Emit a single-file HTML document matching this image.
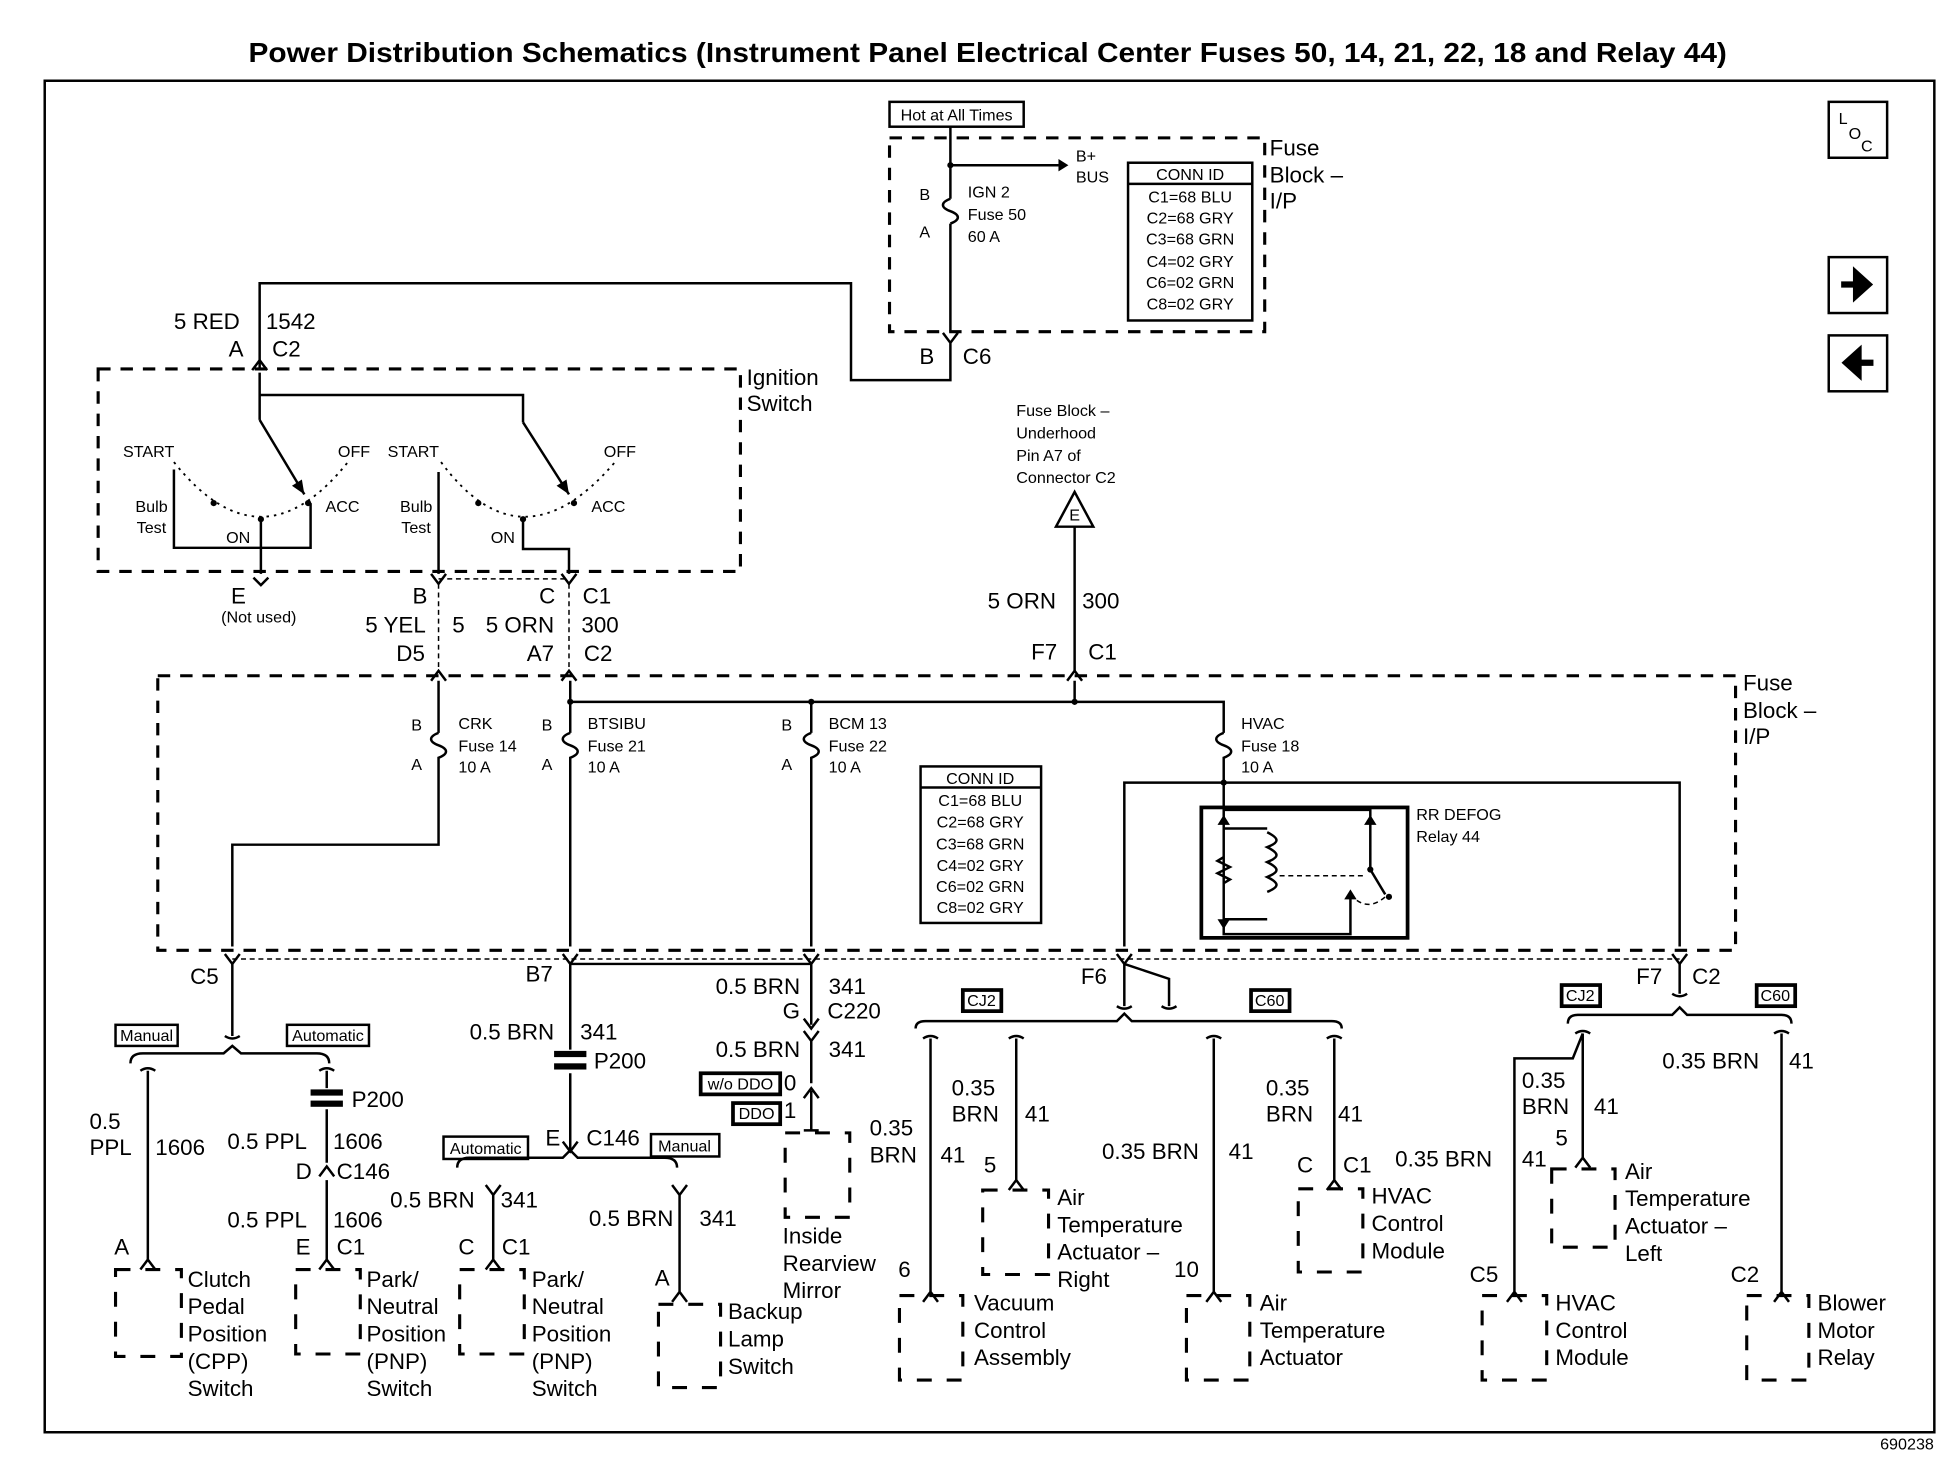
<!DOCTYPE html>
<html><head><meta charset="utf-8"><style>
html,body{margin:0;padding:0;background:#fff}
svg{display:block}
text{font-family:"Liberation Sans",sans-serif;fill:#000}
.t{font-size:18px}
.s{font-size:13px}
.m{font-size:15px}
.w{stroke:#000;stroke-width:2;fill:none}
.d{stroke:#000;stroke-width:2.5;fill:none;stroke-dasharray:10,8}
.cd{stroke:#000;stroke-width:2.5;fill:none;stroke-dasharray:12,12}
.dot{stroke:#000;stroke-width:1.5;fill:none;stroke-dasharray:2,4}
.thd{stroke:#000;stroke-width:1.2;fill:none;stroke-dasharray:4,3}
</style></head><body>
<svg width="1948" height="1472" viewBox="0 0 1568 1185" preserveAspectRatio="none" xmlns="http://www.w3.org/2000/svg">
<rect width="1568" height="1185" fill="#fff"/>
<text x="200" y="50" textLength="1190" lengthAdjust="spacingAndGlyphs" font-size="22" font-weight="bold">Power Distribution Schematics (Instrument Panel Electrical Center Fuses 50, 14, 21, 22, 18 and Relay 44)</text>
<rect x="36" y="65" width="1521" height="1088" class="w"/>
<text x="1535" y="1167" class="s" font-size="11" text-anchor="middle">690238</text>
<!-- right icons -->
<rect x="1472" y="82" width="47" height="45" class="w"/>
<text x="1480" y="100" class="s">L</text><text x="1488" y="112" class="s">O</text><text x="1498" y="122" class="s" font-size="11">C</text>
<rect x="1472" y="207" width="47" height="45" class="w"/>
<path d="M1482 229h18M1494 220l10 9-10 9z" stroke="#000" stroke-width="5" fill="#000"/>
<rect x="1472" y="270" width="47" height="45" class="w"/>
<path d="M1508 292h-18M1496 283l-10 9 10 9z" stroke="#000" stroke-width="5" fill="#000"/>

<!-- top fuse block -->
<rect x="716" y="82" width="108" height="20" class="w"/>
<text x="770" y="97" class="s" text-anchor="middle">Hot at All Times</text>
<rect x="716" y="111" width="302" height="156" class="d"/>
<path d="M765 102V160M765 180V267M765 133H852" class="w"/>
<path d="M852 128l8 5-8 5z"/>
<path d="M765 160c-8 3-8 7 0 10c8 3 8 7 0 10" class="w"/>
<circle cx="765" cy="133" r="2.5"/>
<text x="866" y="130" class="s">B+</text><text x="866" y="147" class="s">BUS</text>
<text x="740" y="161" class="s">B</text><text x="740" y="191" class="s">A</text>
<text x="779" y="159" class="s">IGN 2</text><text x="779" y="177" class="s">Fuse 50</text><text x="779" y="195" class="s">60 A</text>
<rect x="908" y="131" width="100" height="127" class="w"/>
<line x1="908" y1="148" x2="1008" y2="148" class="w"/>
<text x="958" y="145" class="s" text-anchor="middle">CONN ID</text>
<text x="958" y="163" class="s" text-anchor="middle">C1=68 BLU</text>
<text x="958" y="180" class="s" text-anchor="middle">C2=68 GRY</text>
<text x="958" y="197" class="s" text-anchor="middle">C3=68 GRN</text>
<text x="958" y="215" class="s" text-anchor="middle">C4=02 GRY</text>
<text x="958" y="232" class="s" text-anchor="middle">C6=02 GRN</text>
<text x="958" y="249" class="s" text-anchor="middle">C8=02 GRY</text>
<text x="1022" y="125" class="t">Fuse</text><text x="1022" y="147" class="t">Block –</text><text x="1022" y="168" class="t">I/P</text>
<!-- C6 -->
<path d="M759 268l6 8 6-8M765 276V306H685V228H209V296" class="w"/>
<text x="740" y="293" class="t">B</text><text x="775" y="293" class="t">C6</text>
<path d="M203 298l6-8 6 8" class="w"/>
<text x="140" y="265" class="t">5 RED</text><text x="214" y="265" class="t">1542</text>
<text x="184" y="287" class="t">A</text><text x="219" y="287" class="t">C2</text>

<!-- ignition switch -->
<rect x="79" y="297" width="517" height="163" class="d"/>
<text x="601" y="310" class="t">Ignition</text><text x="601" y="331" class="t">Switch</text>
<path d="M209 300V318H421V340M209 318V338" class="w"/>
<path d="M209 338L245 398M421 340L458 398" class="w"/>
<path d="M245 398l-2-12 -8 5z M458 398l-2-12 -8 5z"/>
<path d="M140 372Q210 460 280 372M355 372Q420 460 495 372" class="dot"/>
<circle cx="172" cy="405" r="2.5"/><circle cx="210" cy="418" r="2.5"/><circle cx="248" cy="405" r="2.5"/>
<circle cx="385" cy="405" r="2.5"/><circle cx="421" cy="418" r="2.5"/><circle cx="462" cy="405" r="2.5"/>
<path d="M140 378V441H250V405M210 418V462M353 380V462M421 418V442H458V462" class="w"/>
<text x="99" y="368" class="s">START</text><text x="272" y="368" class="s">OFF</text>
<text x="312" y="368" class="s">START</text><text x="486" y="368" class="s">OFF</text>
<text x="109" y="412" class="s">Bulb</text><text x="110" y="429" class="s">Test</text>
<text x="322" y="412" class="s">Bulb</text><text x="323" y="429" class="s">Test</text>
<text x="182" y="437" class="s">ON</text><text x="395" y="437" class="s">ON</text>
<text x="262" y="412" class="s">ACC</text><text x="476" y="412" class="s">ACC</text>
<path d="M204 465l6 6 6-6M347 462l6 8 6-8M452 462l6 8 6-8" class="w"/>
<text x="186" y="486" class="t">E</text><text x="178" y="501" class="s" font-size="11">(Not used)</text>
<text x="332" y="486" class="t">B</text><text x="434" y="486" class="t">C</text><text x="469" y="486" class="t">C1</text>
<text x="294" y="509" class="t">5 YEL</text><text x="364" y="509" class="t">5</text>
<text x="391" y="509" class="t">5 ORN</text><text x="468" y="509" class="t">300</text>
<text x="319" y="532" class="t">D5</text><text x="424" y="532" class="t">A7</text><text x="470" y="532" class="t">C2</text>
<path d="M353 470V540M458 470V540M353 466H458" class="thd"/>
<path d="M347 548l6-8 6 8M452 548l6-8 6 8" class="w"/>

<!-- E triangle -->
<text x="818" y="335" class="s">Fuse Block –</text><text x="818" y="353" class="s">Underhood</text>
<text x="818" y="371" class="s">Pin A7 of</text><text x="818" y="389" class="s">Connector C2</text>
<path d="M865 396L880 424H850Z" class="w"/><text x="865" y="419" class="s" text-anchor="middle">E</text>
<path d="M865 424V540" class="w"/>
<text x="795" y="490" class="t">5 ORN</text><text x="871" y="490" class="t">300</text>
<text x="830" y="531" class="t">F7</text><text x="876" y="531" class="t">C1</text>
<path d="M859 548l6-8 6 8" class="w"/>

<!-- IP fuse block -->
<rect x="127" y="544" width="1270" height="221" class="d"/>
<text x="1403" y="556" class="t">Fuse</text><text x="1403" y="578" class="t">Block –</text><text x="1403" y="599" class="t">I/P</text>
<path d="M865 548V565H459M865 565H985V590M653 565V590M459 548V590M353 548V590" class="w"/>
<circle cx="459" cy="565" r="2.5"/><circle cx="653" cy="565" r="2.5"/><circle cx="865" cy="565" r="2.5"/>
<g class="w">
<path d="M353 590c-8 3-8 7 0 10c8 3 8 7 0 10V680H187V762"/>
<path d="M459 590c-8 3-8 7 0 10c8 3 8 7 0 10V762"/>
<path d="M653 590c-8 3-8 7 0 10c8 3 8 7 0 10V762"/>
<path d="M985 590c-8 3-8 7 0 10c8 3 8 7 0 10V630M905 762V630H1352V762"/>
</g>
<circle cx="985" cy="630" r="2.5"/>
<text x="331" y="588" class="s">B</text><text x="331" y="620" class="s">A</text>
<text x="369" y="587" class="s">CRK</text><text x="369" y="605" class="s">Fuse 14</text><text x="369" y="622" class="s">10 A</text>
<text x="436" y="588" class="s">B</text><text x="436" y="620" class="s">A</text>
<text x="473" y="587" class="s">BTSIBU</text><text x="473" y="605" class="s">Fuse 21</text><text x="473" y="622" class="s">10 A</text>
<text x="629" y="588" class="s">B</text><text x="629" y="620" class="s">A</text>
<text x="667" y="587" class="s">BCM 13</text><text x="667" y="605" class="s">Fuse 22</text><text x="667" y="622" class="s">10 A</text>
<text x="999" y="587" class="s">HVAC</text><text x="999" y="605" class="s">Fuse 18</text><text x="999" y="622" class="s">10 A</text>
<rect x="741" y="617" width="97" height="126" class="w"/>
<line x1="741" y1="634" x2="838" y2="634" class="w"/>
<text x="789" y="631" class="s" text-anchor="middle">CONN ID</text>
<text x="789" y="649" class="s" text-anchor="middle">C1=68 BLU</text>
<text x="789" y="666" class="s" text-anchor="middle">C2=68 GRY</text>
<text x="789" y="684" class="s" text-anchor="middle">C3=68 GRN</text>
<text x="789" y="701" class="s" text-anchor="middle">C4=02 GRY</text>
<text x="789" y="718" class="s" text-anchor="middle">C6=02 GRN</text>
<text x="789" y="735" class="s" text-anchor="middle">C8=02 GRY</text>
<!-- relay -->
<rect x="967" y="650" width="166" height="105" stroke="#000" stroke-width="3" fill="none"/>
<text x="1140" y="660" class="s">RR DEFOG</text><text x="1140" y="678" class="s">Relay 44</text>
<path d="M985 630V652H1103V680M985 652V752H1087V720M985 667V690l-5 3 10 5-10 5 10 5-5 3V740M985 667H1020M1020 740H985M1020 670c10 5 10 8 0 12c10 5 10 8 0 12c10 5 10 8 0 12c10 5 10 8 0 12M1103 680V700l12 20" class="w"/>
<path d="M1103 656l-5 8h10z M985 656l-5 8h10z M985 748l-5-8h10z M1087 716l-5 8h10z"/>
<path d="M1030 705H1100M1087 720Q1100 735 1115 722" class="thd"/>
<circle cx="1103" cy="700" r="2.5"/><circle cx="1118" cy="722" r="2.5"/>

<path d="M181 768l6 8 6-8M453 768l6 8 6-8M647 768l6 8 6-8M899 768l6 8 6-8M1346 768l6 8 6-8" class="w"/>
<path d="M187 772H1352" class="thd"/>
<text x="153" y="792" class="t">C5</text><text x="423" y="790" class="t">B7</text>
<text x="870" y="792" class="t">F6</text>
<text x="1317" y="792" class="t">F7</text><text x="1362" y="792" class="t">C2</text>

<!-- C5 branch -->
<path d="M187 776V834" class="w"/>
<path d="M181 834q6 4 12 0" class="w"/>
<rect x="93" y="825" width="50" height="17" class="w"/><text x="118" y="838" class="s" text-anchor="middle">Manual</text>
<rect x="231" y="825" width="66" height="17" class="w"/><text x="264" y="838" class="s" text-anchor="middle">Automatic</text>
<path d="M105 856Q105 848 115 848H180L187 842 194 848H255Q265 848 265 856" class="w"/>
<path d="M113 862q6-4 12 0M119 862V1015M113 1022l6-8 6 8" class="w"/>
<path d="M257 862q6-4 12 0M263 862V876M263 893V936M257 947l6-8 6 8M263 950V1015M257 1022l6-8 6 8" class="w"/>
<rect x="250" y="877" width="26" height="5" fill="#000"/><rect x="250" y="886" width="26" height="5" fill="#000"/>
<text x="283" y="891" class="t">P200</text>
<text x="72" y="909" class="t">0.5</text><text x="72" y="930" class="t">PPL</text><text x="125" y="930" class="t">1606</text>
<text x="183" y="925" class="t">0.5 PPL</text><text x="268" y="925" class="t">1606</text>
<text x="238" y="949" class="t">D</text><text x="271" y="949" class="t">C146</text>
<text x="183" y="988" class="t">0.5 PPL</text><text x="268" y="988" class="t">1606</text>
<text x="92" y="1010" class="t">A</text><text x="238" y="1010" class="t">E</text><text x="271" y="1010" class="t">C1</text>

<!-- B7 branch -->
<path d="M459 776V845M459 864V925M453 919l6 8 6-8M459 776H653V825M647 820l6 8 6-8" class="w"/>
<rect x="446" y="846" width="26" height="5" fill="#000"/><rect x="446" y="856" width="26" height="5" fill="#000"/>
<text x="478" y="860" class="t">P200</text>
<text x="378" y="837" class="t">0.5 BRN</text><text x="467" y="837" class="t">341</text>
<text x="576" y="800" class="t">0.5 BRN</text><text x="667" y="800" class="t">341</text>
<text x="630" y="820" class="t">G</text><text x="666" y="820" class="t">C220</text>
<text x="439" y="922" class="t">E</text><text x="472" y="922" class="t">C146</text>
<rect x="357" y="915" width="68" height="18" class="w"/><text x="391" y="929" class="s" text-anchor="middle">Automatic</text>
<rect x="524" y="913" width="55" height="18" class="w"/><text x="551" y="927" class="s" text-anchor="middle">Manual</text>
<path d="M368 940Q368 932 378 932H453L459 926 465 932H535Q545 932 545 940" class="w"/>
<path d="M391 954l6 8 6-8M397 962V1014M391 1022l6-8 6 8" class="w"/>
<path d="M541 954l6 8 6-8M547 962V1040M541 1048l6-8 6 8" class="w"/>
<text x="314" y="972" class="t">0.5 BRN</text><text x="403" y="972" class="t">341</text>
<text x="474" y="987" class="t">0.5 BRN</text><text x="563" y="987" class="t">341</text>
<text x="369" y="1010" class="t">C</text><text x="404" y="1010" class="t">C1</text>
<text x="527" y="1035" class="t">A</text>
<!-- mirror -->
<path d="M647 830l6 8 6-8M653 838V872M647 884l6-8 6 8M653 878V910M647 910H659" class="w"/>
<text x="576" y="851" class="t">0.5 BRN</text><text x="667" y="851" class="t">341</text>
<rect x="564" y="864" width="64" height="17" stroke="#000" stroke-width="3" fill="none"/><text x="596" y="877" class="s" text-anchor="middle">w/o DDO</text><text x="631" y="878" class="t" font-size="16">0</text>
<rect x="590" y="888" width="38" height="17" stroke="#000" stroke-width="3" fill="none"/><text x="609" y="901" class="s" text-anchor="middle">DDO</text><text x="631" y="900" class="t" font-size="16">1</text>
<rect x="632" y="912" width="52" height="68" class="cd"/>
<text x="630" y="1001" class="t">Inside</text><text x="630" y="1023" class="t">Rearview</text><text x="630" y="1045" class="t">Mirror</text>

<rect x="93" y="1022" width="53" height="70" class="cd"/>
<text x="151" y="1036" class="t">Clutch</text><text x="151" y="1058" class="t">Pedal</text><text x="151" y="1080" class="t">Position</text><text x="151" y="1102" class="t">(CPP)</text><text x="151" y="1124" class="t">Switch</text>
<rect x="238" y="1022" width="52" height="68" class="cd"/>
<text x="295" y="1036" class="t">Park/</text><text x="295" y="1058" class="t">Neutral</text><text x="295" y="1080" class="t">Position</text><text x="295" y="1102" class="t">(PNP)</text><text x="295" y="1124" class="t">Switch</text>
<rect x="370" y="1022" width="52" height="68" class="cd"/>
<text x="428" y="1036" class="t">Park/</text><text x="428" y="1058" class="t">Neutral</text><text x="428" y="1080" class="t">Position</text><text x="428" y="1102" class="t">(PNP)</text><text x="428" y="1124" class="t">Switch</text>
<rect x="530" y="1050" width="50" height="67" class="cd"/>
<text x="586" y="1062" class="t">Backup</text><text x="586" y="1084" class="t">Lamp</text><text x="586" y="1106" class="t">Switch</text>

<!-- F6 branch -->
<path d="M905 776V810M905 776L941 788V810M899 810q6 4 12 0M935 810q6 4 12 0" class="w"/>
<rect x="775" y="797" width="31" height="17" stroke="#000" stroke-width="3" fill="none"/><text x="790" y="810" class="s" text-anchor="middle">CJ2</text>
<rect x="1007" y="797" width="31" height="17" stroke="#000" stroke-width="3" fill="none"/><text x="1022" y="810" class="s" text-anchor="middle">C60</text>
<path d="M737 828Q737 822 745 822H899L905 816 911 822H1072Q1080 822 1080 828" class="w"/>
<path d="M743 836q6-4 12 0M749 836V1040M743 1048l6-8 6 8" class="w"/>
<path d="M812 836q6-4 12 0M818 836V950M812 958l6-8 6 8" class="w"/>
<path d="M971 836q6-4 12 0M977 836V1040M971 1048l6-8 6 8" class="w"/>
<path d="M1068 836q6-4 12 0M1074 836V950M1068 958l6-8 6 8" class="w"/>
<text x="700" y="914" class="t">0.35</text><text x="700" y="936" class="t">BRN</text><text x="757" y="936" class="t">41</text>
<text x="766" y="882" class="t">0.35</text><text x="766" y="903" class="t">BRN</text><text x="825" y="903" class="t">41</text>
<text x="792" y="944" class="t">5</text>
<text x="887" y="933" class="t">0.35 BRN</text><text x="989" y="933" class="t">41</text>
<text x="1019" y="882" class="t">0.35</text><text x="1019" y="903" class="t">BRN</text><text x="1077" y="903" class="t">41</text>
<text x="1044" y="944" class="t">C</text><text x="1081" y="944" class="t">C1</text>
<text x="723" y="1028" class="t">6</text><text x="945" y="1028" class="t">10</text>
<rect x="791" y="958" width="53" height="68" class="cd"/>
<text x="851" y="970" class="t">Air</text><text x="851" y="992" class="t">Temperature</text><text x="851" y="1014" class="t">Actuator –</text><text x="851" y="1036" class="t">Right</text>
<rect x="1045" y="957" width="52" height="67" class="cd"/>
<text x="1104" y="969" class="t">HVAC</text><text x="1104" y="991" class="t">Control</text><text x="1104" y="1013" class="t">Module</text>
<rect x="724" y="1043" width="51" height="68" class="cd"/>
<text x="784" y="1055" class="t">Vacuum</text><text x="784" y="1077" class="t">Control</text><text x="784" y="1099" class="t">Assembly</text>
<rect x="955" y="1043" width="51" height="68" class="cd"/>
<text x="1014" y="1055" class="t">Air</text><text x="1014" y="1077" class="t">Temperature</text><text x="1014" y="1099" class="t">Actuator</text>

<!-- F7 C2 branch -->
<path d="M1352 776V800M1346 800q6 4 12 0" class="w"/>
<rect x="1257" y="793" width="31" height="17" stroke="#000" stroke-width="3" fill="none"/><text x="1272" y="806" class="s" text-anchor="middle">CJ2</text>
<rect x="1414" y="793" width="31" height="17" stroke="#000" stroke-width="3" fill="none"/><text x="1429" y="806" class="s" text-anchor="middle">C60</text>
<path d="M1262 824Q1262 817 1270 817H1346L1352 811 1358 817H1434Q1442 817 1442 824" class="w"/>
<path d="M1268 832q6-4 12 0M1274 832V932M1268 940l6-8 6 8M1274 832L1266 852H1219V1040M1213 1048l6-8 6 8" class="w"/>
<path d="M1428 832q6-4 12 0M1434 832V1040M1428 1048l6-8 6 8" class="w"/>
<text x="1225" y="876" class="t">0.35</text><text x="1225" y="897" class="t">BRN</text><text x="1283" y="897" class="t">41</text>
<text x="1252" y="922" class="t">5</text>
<text x="1123" y="939" class="t">0.35 BRN</text><text x="1225" y="939" class="t">41</text>
<text x="1338" y="860" class="t">0.35 BRN</text><text x="1440" y="860" class="t">41</text>
<text x="1183" y="1032" class="t">C5</text><text x="1393" y="1032" class="t">C2</text>
<rect x="1249" y="941" width="51" height="63" class="cd"/>
<text x="1308" y="949" class="t">Air</text><text x="1308" y="971" class="t">Temperature</text><text x="1308" y="993" class="t">Actuator –</text><text x="1308" y="1015" class="t">Left</text>
<rect x="1193" y="1043" width="52" height="68" class="cd"/>
<text x="1252" y="1055" class="t">HVAC</text><text x="1252" y="1077" class="t">Control</text><text x="1252" y="1099" class="t">Module</text>
<rect x="1406" y="1043" width="50" height="68" class="cd"/>
<text x="1463" y="1055" class="t">Blower</text><text x="1463" y="1077" class="t">Motor</text><text x="1463" y="1099" class="t">Relay</text>
</svg>
</body></html>
